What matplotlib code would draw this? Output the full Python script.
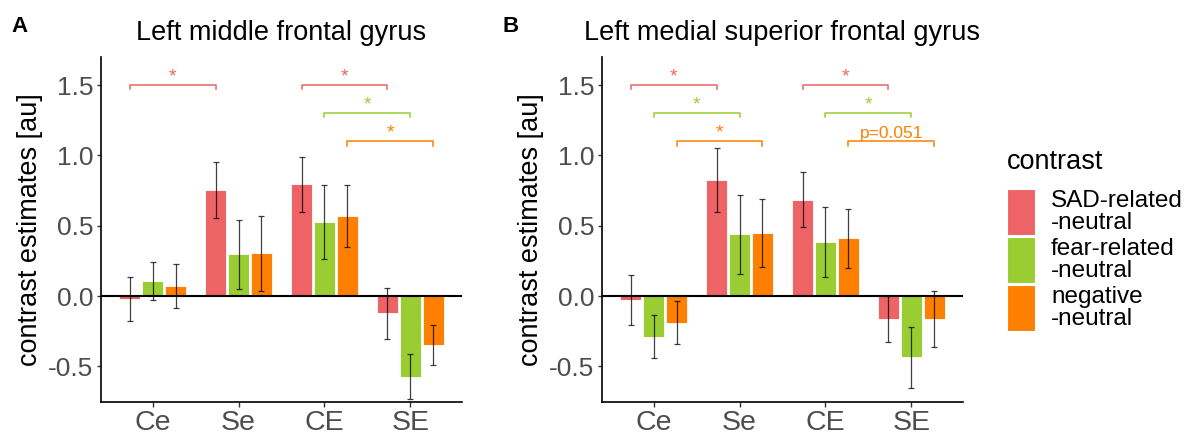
import matplotlib
matplotlib.use("Agg")
import matplotlib.pyplot as plt
from matplotlib.patches import Rectangle
import numpy as np

plt.rcParams['font.family'] = ['Liberation Sans', 'DejaVu Sans']

categories = ["Ce", "Se", "CE", "SE"]
contrasts = ["SAD-related\n-neutral", "fear-related\n-neutral", "negative\n-neutral"]
colors = ["#EE6366", "#9ACD32", "#FF7F00"]

# Panel A: Left middle frontal gyrus
a_mean = {
    "SAD": [-0.02, 0.753, 0.796, -0.123],
    "fear": [0.107, 0.296, 0.528, -0.573],
    "neg": [0.071, 0.303, 0.569, -0.348],
}
a_err = {
    "SAD": [0.157, 0.20, 0.195, 0.18],
    "fear": [0.137, 0.245, 0.265, 0.16],
    "neg": [0.154, 0.27, 0.22, 0.145],
}
# Panel B: Left medial superior frontal gyrus
b_mean = {
    "SAD": [-0.028, 0.824, 0.685, -0.163],
    "fear": [-0.289, 0.438, 0.386, -0.436],
    "neg": [-0.19, 0.448, 0.412, -0.163],
}
b_err = {
    "SAD": [0.178, 0.226, 0.196, 0.162],
    "fear": [0.154, 0.28, 0.248, 0.218],
    "neg": [0.152, 0.242, 0.21, 0.198],
}
keys = ["SAD", "fear", "neg"]

# significance: (group index, from category, to category, level, label)
a_sig = [(0, 0, 1, 1.5, "*"), (0, 2, 3, 1.5, "*"), (1, 2, 3, 1.3, "*"), (2, 2, 3, 1.1, "*")]
b_sig = [(0, 0, 1, 1.5, "*"), (1, 0, 1, 1.3, "*"), (2, 0, 1, 1.1, "*"),
         (0, 2, 3, 1.5, "*"), (1, 2, 3, 1.3, "*"), (2, 2, 3, 1.1, "p=0.051")]

fig = plt.figure(figsize=(11.89, 4.34), dpi=100)
W, H = 1189, 434

def ax_rect(x0, y0, x1, y1):
    return [x0 / W, 1 - y1 / H, (x1 - x0) / W, (y1 - y0) / H]

ax1 = fig.add_axes(ax_rect(101, 57, 462, 402))
ax2 = fig.add_axes(ax_rect(602, 57, 963, 402))

offset = 0.267
bw = 0.245

def draw(ax, means, errs, sigs, title):
    x = np.arange(1, len(categories) + 1)
    for i, k in enumerate(keys):
        xi = x + (i - 1) * offset
        ax.bar(xi, means[k], width=bw, color=colors[i], edgecolor="white", linewidth=0.6, zorder=2)
        ax.errorbar(xi, means[k], yerr=errs[k], fmt="none", ecolor="black", alpha=0.75,
                    elinewidth=0.9, capsize=2, capthick=0.9, zorder=3)
    ax.axhline(0, color="black", linewidth=1.5, zorder=4)
    for g, c0, c1, lvl, lab in sigs:
        xa = x[c0] + (g - 1) * offset
        xb = x[c1] + (g - 1) * offset
        ax.plot([xa, xa, xb, xb], [lvl - 0.03, lvl, lvl, lvl - 0.03], color=colors[g], linewidth=1.1,
                clip_on=False, zorder=3)
        if lab == "*":
            ax.text((xa + xb) / 2, lvl + 0.0, lab, color=colors[g], ha="center", va="bottom", fontsize=14)
        else:
            ax.text((xa + xb) / 2, lvl + 0.005, lab, color=colors[g], ha="center", va="bottom", fontsize=12.5)
    ax.set_xlim(0.4, 4.6)
    ax.set_ylim(-0.753, 1.70)
    ax.set_xticks(x)
    ax.set_xticklabels(categories)
    ax.set_yticks([-0.5, 0.0, 0.5, 1.0, 1.5])
    ax.set_yticklabels(["-0.5", "0.0", "0.5", "1.0", "1.5"])
    ax.tick_params(axis="x", labelsize=20.5, colors="#333333", length=3.5, width=1, pad=2,
                   labelcolor="#4D4D4D")
    ax.tick_params(axis="y", labelsize=19, colors="#333333", length=3, width=1, pad=2.5,
                   labelcolor="#4D4D4D")
    for s in ["top", "right"]:
        ax.spines[s].set_visible(False)
    for s in ["left", "bottom"]:
        ax.spines[s].set_linewidth(1.2)
        ax.spines[s].set_color("black")
    ax.set_ylabel("contrast estimates [au]", fontsize=19.5, color="black", labelpad=4)
    ax.set_title(title, fontsize=19.5, pad=12)

draw(ax1, a_mean, a_err, a_sig, "Left middle frontal gyrus")
draw(ax2, b_mean, b_err, b_sig, "Left medial superior frontal gyrus")

fig.text(11 / W, 1 - 27 / H, "A", fontsize=16, fontweight="bold", va="center", ha="left")
fig.text(502 / W, 1 - 27 / H, "B", fontsize=16, fontweight="bold", va="center", ha="left")

# legend (drawn manually to match the stacked key layout)
fig.text(1007 / W, 1 - 162 / H, "contrast", fontsize=19.5, va="center", ha="left")
key_top = [189, 237, 285]
for i in range(3):
    y0 = key_top[i]
    fig.add_artist(Rectangle((1007 / W, 1 - (y0 + 46) / H), 28 / W, 46 / H,
                             transform=fig.transFigure, facecolor=colors[i], edgecolor="white",
                             linewidth=0.8))
    fig.text(1051 / W, 1 - (y0 + 23) / H, contrasts[i], fontsize=17.5, va="center", ha="left",
             linespacing=1.0)

fig.savefig("out.png", dpi=100)
